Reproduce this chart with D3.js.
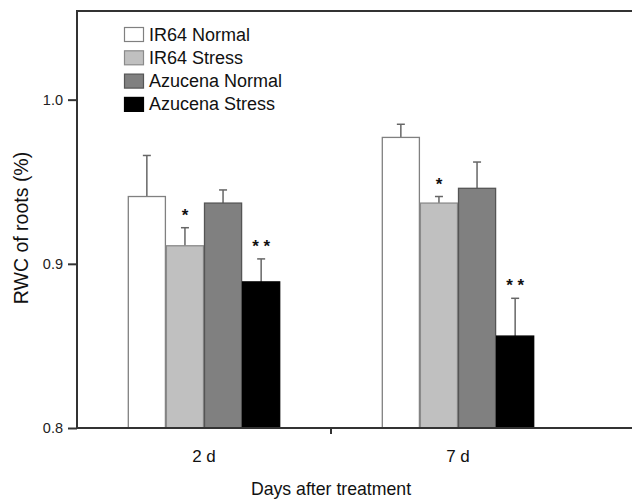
<!DOCTYPE html>
<html><head><meta charset="utf-8">
<script src="https://cdn.jsdelivr.net/npm/d3@7"></script>
<style>body{margin:0;background:#fff}svg{display:block}</style>
</head><body><svg id="c" width="632" height="499"></svg>
<script>
const categories = ["2 d", "7 d"];
const seriesNames = ["IR64 Normal", "IR64 Stress", "Azucena Normal", "Azucena Stress"];
const ir64Normal = [0.941, 0.977];
const ir64Stress = [0.911, 0.937];
const azuNormal = [0.937, 0.946];
const azuStress = [0.889, 0.856];
const ir64NormalErr = [0.025, 0.008];
const ir64StressErr = [0.011, 0.004];
const azuNormalErr = [0.008, 0.016];
const azuStressErr = [0.014, 0.023];
const ir64StressMark = ["*", "*"];
const azuStressMark = ["* *", "* *"];
const yTicks = [0.8, 0.9, 1.0];

const fills = ["#ffffff", "#c0c0c0", "#808080", "#000000"];
const strokes = ["#808080", "#8a8a8a", "#555555", "#000000"];
const values = [ir64Normal, ir64Stress, azuNormal, azuStress];
const errs = [ir64NormalErr, ir64StressErr, azuNormalErr, azuStressErr];
const marks = [null, ir64StressMark, null, azuStressMark];

const svg = d3.select("#c");
const L = 77, R = 585, T = 11, B = 428;
const font = "Liberation Sans, Arial, sans-serif";

const x = d3.scaleBand().domain(categories).range([L, R]).paddingInner(0.4).paddingOuter(0.2);
const xs = d3.scaleBand().domain(seriesNames).range([0, x.bandwidth()]).padding(0);
const y = d3.scaleLinear().domain([0.8, 1.054]).range([B, T]);

const data = [];
categories.forEach((c, ci) => seriesNames.forEach((s, si) => {
  data.push({c, s, si, v: values[si][ci], e: errs[si][ci], m: marks[si] ? marks[si][ci] : null});
}));

const g = svg.append("g");
g.selectAll("line.err").data(data).join("line")
  .attr("x1", d => x(d.c) + xs(d.s) + xs.bandwidth()/2)
  .attr("x2", d => x(d.c) + xs(d.s) + xs.bandwidth()/2)
  .attr("y1", d => y(d.v)).attr("y2", d => y(d.v + d.e))
  .attr("stroke", "#666").attr("stroke-width", 1.5);
g.selectAll("line.cap").data(data).join("line")
  .attr("x1", d => x(d.c) + xs(d.s) + xs.bandwidth()/2 - 4)
  .attr("x2", d => x(d.c) + xs(d.s) + xs.bandwidth()/2 + 4)
  .attr("y1", d => y(d.v + d.e)).attr("y2", d => y(d.v + d.e))
  .attr("stroke", "#666").attr("stroke-width", 1.5);
g.selectAll("rect.bar").data(data).join("rect")
  .attr("x", d => x(d.c) + xs(d.s) + 0.5)
  .attr("width", xs.bandwidth() - 1)
  .attr("y", d => y(d.v))
  .attr("height", d => y(0.8) - y(d.v))
  .attr("fill", d => fills[d.si]).attr("stroke", d => strokes[d.si]).attr("stroke-width", 1.3);
g.selectAll("text.star").data(data.filter(d => d.m)).join("text")
  .attr("x", d => x(d.c) + xs(d.s) + xs.bandwidth()/2)
  .attr("y", d => y(d.v + d.e) - 7)
  .attr("text-anchor", "middle").attr("font-family", font).attr("font-size", 17).attr("font-weight", "bold")
  .attr("fill", "#111").text(d => d.m);

svg.append("line").attr("x1", L).attr("x2", 640).attr("y1", T).attr("y2", T).attr("stroke", "#333").attr("stroke-width", 2);

const yAxis = svg.append("g").attr("transform", `translate(${L},0)`)
  .call(d3.axisLeft(y).tickValues(yTicks).tickFormat(d3.format(".1f")).tickSize(9).tickPadding(5));
yAxis.select(".domain").remove();
yAxis.append("line").attr("x1", 0).attr("x2", 0).attr("y1", T - 1).attr("y2", B + 1).attr("stroke", "#333").attr("stroke-width", 2);
yAxis.selectAll(".tick line").attr("stroke", "#333").attr("stroke-width", 2);
yAxis.selectAll(".tick text").attr("font-family", font).attr("font-size", 14.5).attr("fill", "#222");

svg.append("line").attr("x1", L - 1).attr("x2", 640).attr("y1", B).attr("y2", B).attr("stroke", "#333").attr("stroke-width", 2);
const mid = (x(categories[0]) + x(categories[1]) + x.bandwidth()) / 2;
svg.append("line").attr("x1", mid).attr("x2", mid).attr("y1", B).attr("y2", B + 6).attr("stroke", "#333").attr("stroke-width", 2);
svg.selectAll("text.cat").data(categories).join("text")
  .attr("x", d => x(d) + x.bandwidth()/2).attr("y", 462)
  .attr("text-anchor", "middle").attr("font-family", font).attr("font-size", 17).attr("fill", "#111").text(d => d);

svg.append("text").attr("x", 331).attr("y", 495).attr("text-anchor", "middle")
  .attr("font-family", font).attr("font-size", 17.7).attr("fill", "#111").text("Days after treatment");
svg.append("text").attr("transform", "translate(28,228) rotate(-90)").attr("text-anchor", "middle")
  .attr("font-family", font).attr("font-size", 19.5).attr("fill", "#111").text("RWC of roots (%)");

const leg = svg.append("g").attr("transform", "translate(124,27)");
seriesNames.forEach((s, i) => {
  const row = leg.append("g").attr("transform", `translate(0,${i * 23.3})`);
  row.append("rect").attr("x", 0.5).attr("y", 0.5).attr("width", 19).attr("height", 14)
    .attr("fill", fills[i]).attr("stroke", strokes[i]).attr("stroke-width", 1.2);
  row.append("text").attr("x", 25).attr("y", 13.5).attr("font-family", font).attr("font-size", 18)
    .attr("fill", "#111").text(s);
});
</script></body></html>
